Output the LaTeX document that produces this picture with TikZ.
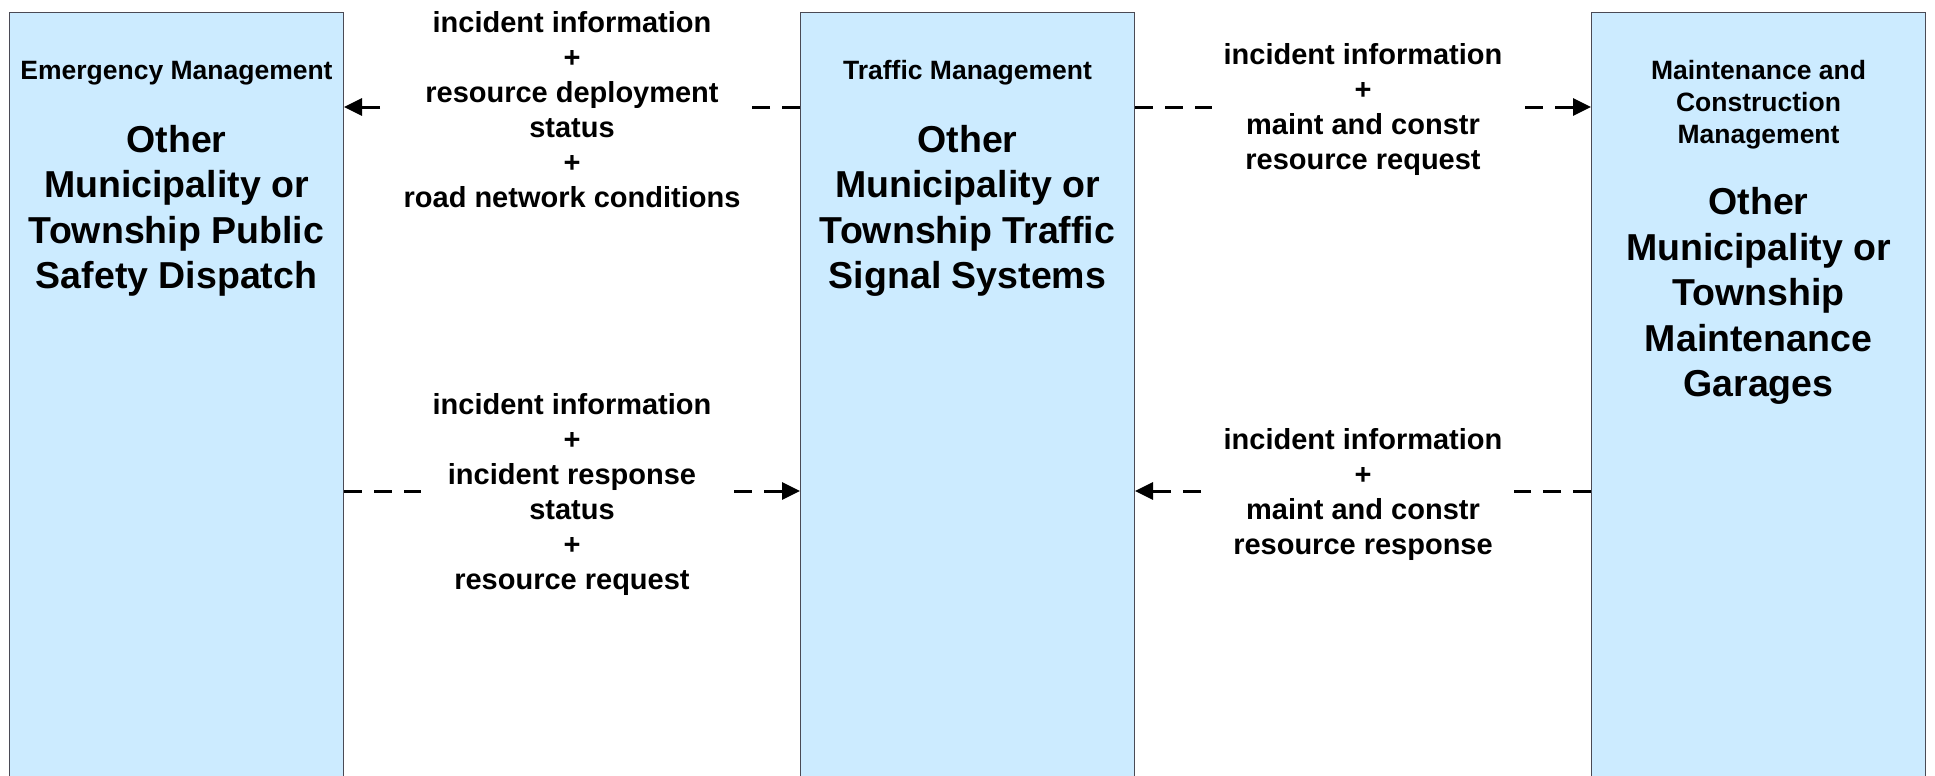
\documentclass[tikz,border=0pt]{standalone}
\usepackage{fontspec}
\setmainfont{Liberation Sans}
\usepackage{tikz}
\usetikzlibrary{arrows.meta,positioning}
\definecolor{BoxBlue}{HTML}{CCEBFF}
\definecolor{BoxEdge}{HTML}{4A4A55}

\begin{document}
\begin{tikzpicture}[x=1pt,y=-1pt,>={Triangle[length=18pt,width=17pt]}]
  \tikzset{sysbox/.style={draw=BoxEdge,line width=1pt,fill=BoxBlue,minimum width=334pt,minimum height=780pt,anchor=north,inner sep=0pt},
           boxtitle/.style={align=center,font=\fontsize{26.5}{32}\selectfont\bfseries},
           boxname/.style={align=center,font=\fontsize{37.5}{45.5}\selectfont\bfseries},
           flow/.style={->,line width=3pt,dash pattern=on 18pt off 12pt},
           flowlabel/.style={fill=white,align=center,inner xsep=12pt,inner ysep=2pt,yshift=-3pt,font=\fontsize{29}{35}\selectfont\bfseries}}
  \useasboundingbox (0,0) rectangle (1935,776);
  \node[sysbox] (em) at (176.5,12) {};
  \node[sysbox] (tm) at (967.5,12) {};
  \node[sysbox] (mc) at (1758.5,12) {};
  \node[boxtitle] (emtitle) at (176.5,73) {Emergency Management};
  \node[boxtitle] (tmtitle) at (967.5,73) {Traffic Management};
  \node[boxtitle] (mctitle) at (1758.5,105) {Maintenance and\\Construction\\Management};
  \node[boxname] (emname) at (176.5,211) {Other\\Municipality or\\Township Public\\Safety Dispatch};
  \node[boxname] (tmname) at (967.5,211) {Other\\Municipality or\\Township Traffic\\Signal Systems};
  \node[boxname] (mcname) at (1758.5,296) {Other\\Municipality or\\Township\\Maintenance\\Garages};
  \coordinate (row1) at (0,107);
  \coordinate (row2) at (0,491);
  \draw[flow] (tm.west |- row1) -- node[flowlabel] (f1) {incident information\\+\\resource deployment\\status\\+\\road network conditions} (em.east |- row1);
  \draw[flow] (tm.east |- row1) -- node[flowlabel] (f2) {incident information\\+\\maint and constr\\resource request} (mc.west |- row1);
  \draw[flow] (em.east |- row2) -- node[flowlabel] (f3) {incident information\\+\\incident response\\status\\+\\resource request} (tm.west |- row2);
  \draw[flow] (mc.west |- row2) -- node[flowlabel] (f4) {incident information\\+\\maint and constr\\resource response} (tm.east |- row2);
\end{tikzpicture}
\end{document}
